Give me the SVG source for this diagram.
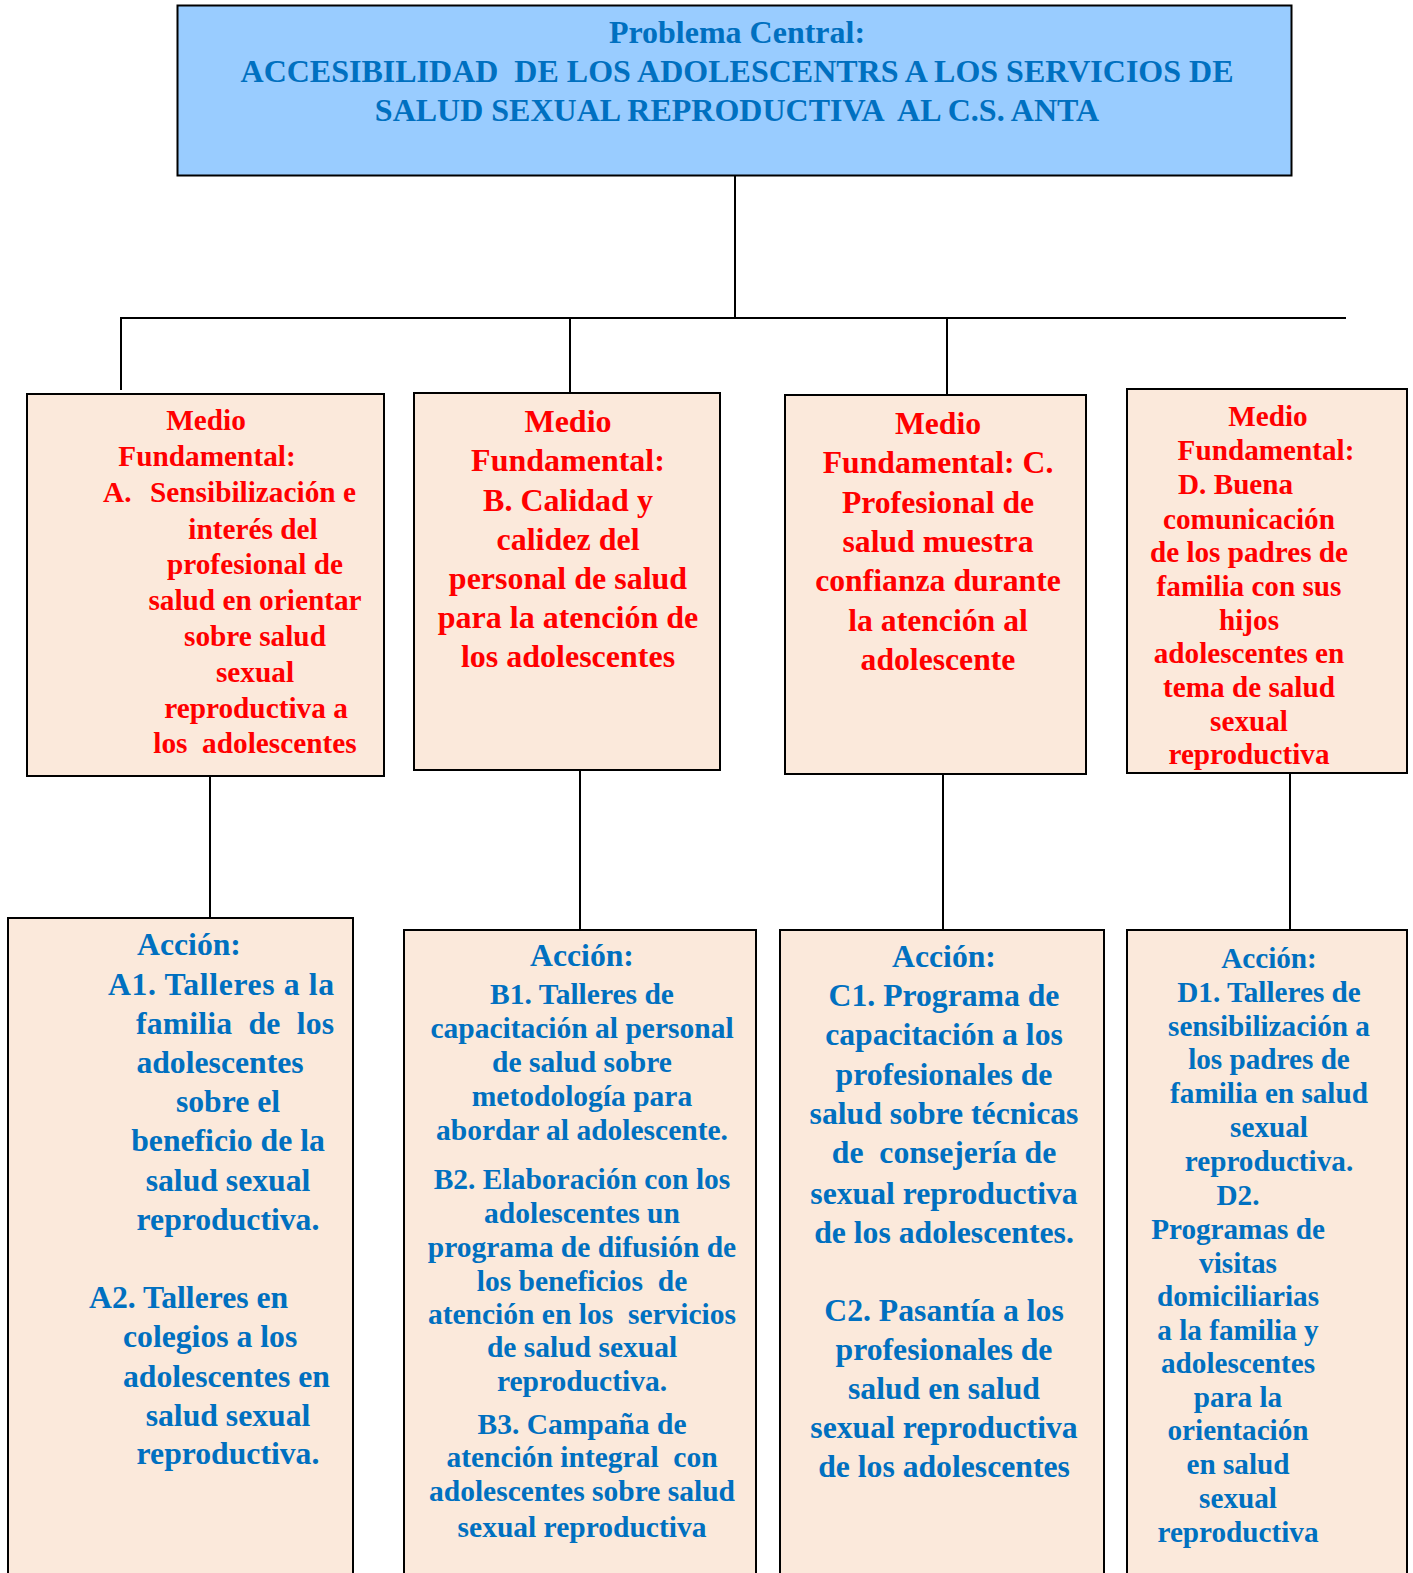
<svg xmlns="http://www.w3.org/2000/svg" width="1413" height="1573" viewBox="0 0 1413 1573">
<style>
text{font-family:"Liberation Serif","Times New Roman",serif;font-weight:bold;white-space:pre}
.top{fill:#99CCFF;stroke:#000;stroke-width:2}
.box{fill:#FBE9DB;stroke:#000;stroke-width:2}
.red{fill:#FF0000}
.blue{fill:#0070C0}
.c{text-anchor:middle}
.conn line{stroke:#000;stroke-width:2}
</style>
<rect width="1413" height="1573" fill="#fff"/>
<g id="problema-central">
<rect class="top" x="177.5" y="5.5" width="1114" height="170"/>
<text class="blue c" font-size="32" x="737" y="43">Problema Central:</text>
<text class="blue c" font-size="32" x="737" y="82">ACCESIBILIDAD  DE LOS ADOLESCENTRS A LOS SERVICIOS DE</text>
<text class="blue c" font-size="32" x="737" y="121">SALUD SEXUAL REPRODUCTIVA  AL C.S. ANTA</text>
</g>
<g id="connectors" class="conn">
<line x1="735" y1="175" x2="735" y2="318"/>
<line x1="120" y1="318" x2="1346" y2="318"/>
<line x1="121" y1="318" x2="121" y2="390"/>
<line x1="570" y1="318" x2="570" y2="393"/>
<line x1="947" y1="318" x2="947" y2="394"/>
<line x1="210" y1="776" x2="210" y2="920"/>
<line x1="580" y1="770" x2="580" y2="930"/>
<line x1="943" y1="774" x2="943" y2="930"/>
<line x1="1290" y1="773" x2="1290" y2="930"/>
</g>
<g id="medio-a">
<rect class="box" x="27" y="394" width="357" height="382"/>
<g class="red" font-size="29.3">
<text class="c" x="206" y="430">Medio</text>
<text class="c" x="207" y="466">Fundamental:</text>
<text x="103" y="502">A.</text>
<text x="150" y="502">Sensibilización e</text>
<text class="c" x="253" y="539">interés del</text>
<text class="c" x="255" y="574">profesional de</text>
<text class="c" x="255" y="610">salud en orientar</text>
<text class="c" x="255" y="646">sobre salud</text>
<text class="c" x="255" y="682">sexual</text>
<text class="c" x="256" y="718">reproductiva a</text>
<text class="c" x="255" y="753">los  adolescentes</text>
</g>
</g>
<g id="medio-b">
<rect class="box" x="414" y="393" width="306" height="377"/>
<g class="red c" font-size="32">
<text x="568" y="432">Medio</text>
<text x="568" y="471">Fundamental:</text>
<text x="568" y="511">B. Calidad y</text>
<text x="568" y="550">calidez del</text>
<text x="568" y="589">personal de salud</text>
<text x="568" y="628">para la atención de</text>
<text x="568" y="667">los adolescentes</text>
</g>
</g>
<g id="medio-c">
<rect class="box" x="785" y="395" width="301" height="379"/>
<g class="red c" font-size="31.7">
<text x="938" y="434">Medio</text>
<text x="938" y="473">Fundamental: C.</text>
<text x="938" y="513">Profesional de</text>
<text x="938" y="552">salud muestra</text>
<text x="938" y="591">confianza durante</text>
<text x="938" y="631">la atención al</text>
<text x="938" y="670">adolescente</text>
</g>
</g>
<g id="medio-d">
<rect class="box" x="1127" y="389" width="280" height="384"/>
<g class="red" font-size="29.2">
<text class="c" x="1268" y="426">Medio</text>
<text class="c" x="1266" y="460">Fundamental:</text>
<text x="1178" y="494">D. Buena</text>
<text class="c" x="1249" y="529">comunicación</text>
<text class="c" x="1249" y="562">de los padres de</text>
<text class="c" x="1249" y="596">familia con sus</text>
<text class="c" x="1249" y="630">hijos</text>
<text class="c" x="1249" y="663">adolescentes en</text>
<text class="c" x="1249" y="697">tema de salud</text>
<text class="c" x="1249" y="731">sexual</text>
<text class="c" x="1249" y="764">reproductiva</text>
</g>
</g>
<g id="accion-a">
<rect class="box" x="8" y="918" width="345" height="670"/>
<g class="blue" font-size="31.7">
<text class="c" x="189" y="955">Acción:</text>
<text x="108" y="995" textLength="226" lengthAdjust="spacing">A1. Talleres a la</text>
<text x="136" y="1034" textLength="198" lengthAdjust="spacing">familia  de  los</text>
<text class="c" x="220" y="1073">adolescentes</text>
<text class="c" x="228" y="1112">sobre el</text>
<text class="c" x="228" y="1151">beneficio de la</text>
<text class="c" x="228" y="1191">salud sexual</text>
<text class="c" x="228" y="1230">reproductiva.</text>
<text x="89" y="1308">A2. Talleres en</text>
<text x="123" y="1347">colegios a los</text>
<text x="123" y="1387">adolescentes en</text>
<text class="c" x="228" y="1426">salud sexual</text>
<text class="c" x="228" y="1464">reproductiva.</text>
</g>
</g>
<g id="accion-b">
<rect class="box" x="404" y="930" width="352" height="660"/>
<g class="blue c" font-size="29.5">
<text x="582" y="966" font-size="31.7">Acción:</text>
<text x="582" y="1004">B1. Talleres de</text>
<text x="582" y="1038">capacitación al personal</text>
<text x="582" y="1072">de salud sobre</text>
<text x="582" y="1106">metodología para</text>
<text x="582" y="1140">abordar al adolescente.</text>
<text x="582" y="1189">B2. Elaboración con los</text>
<text x="582" y="1223">adolescentes un</text>
<text x="582" y="1257">programa de difusión de</text>
<text x="582" y="1291">los beneficios  de</text>
<text x="582" y="1324">atención en los  servicios</text>
<text x="582" y="1357">de salud sexual</text>
<text x="582" y="1391">reproductiva.</text>
<text x="582" y="1434">B3. Campaña de</text>
<text x="582" y="1467">atención integral  con</text>
<text x="582" y="1501">adolescentes sobre salud</text>
<text x="582" y="1537">sexual reproductiva</text>
</g>
</g>
<g id="accion-c">
<rect class="box" x="780" y="930" width="324" height="660"/>
<g class="blue c" font-size="31.7">
<text x="944" y="967">Acción:</text>
<text x="944" y="1006">C1. Programa de</text>
<text x="944" y="1045">capacitación a los</text>
<text x="944" y="1085">profesionales de</text>
<text x="944" y="1124">salud sobre técnicas</text>
<text x="944" y="1163">de  consejería de</text>
<text x="944" y="1204">sexual reproductiva</text>
<text x="944" y="1243">de los adolescentes.</text>
<text x="944" y="1321">C2. Pasantía a los</text>
<text x="944" y="1360">profesionales de</text>
<text x="944" y="1399">salud en salud</text>
<text x="944" y="1438">sexual reproductiva</text>
<text x="944" y="1477">de los adolescentes</text>
</g>
</g>
<g id="accion-d">
<rect class="box" x="1127" y="930" width="280" height="660"/>
<g class="blue c" font-size="29.2">
<text x="1269" y="968">Acción:</text>
<text x="1269" y="1002">D1. Talleres de</text>
<text x="1269" y="1036">sensibilización a</text>
<text x="1269" y="1069">los padres de</text>
<text x="1269" y="1103">familia en salud</text>
<text x="1269" y="1137">sexual</text>
<text x="1269" y="1171">reproductiva.</text>
<text x="1238" y="1205">D2.</text>
<text x="1238" y="1239">Programas de</text>
<text x="1238" y="1273">visitas</text>
<text x="1238" y="1306">domiciliarias</text>
<text x="1238" y="1340">a la familia y</text>
<text x="1238" y="1373">adolescentes</text>
<text x="1238" y="1407">para la</text>
<text x="1238" y="1440">orientación</text>
<text x="1238" y="1474">en salud</text>
<text x="1238" y="1508">sexual</text>
<text x="1238" y="1542">reproductiva</text>
</g>
</g>
</svg>
